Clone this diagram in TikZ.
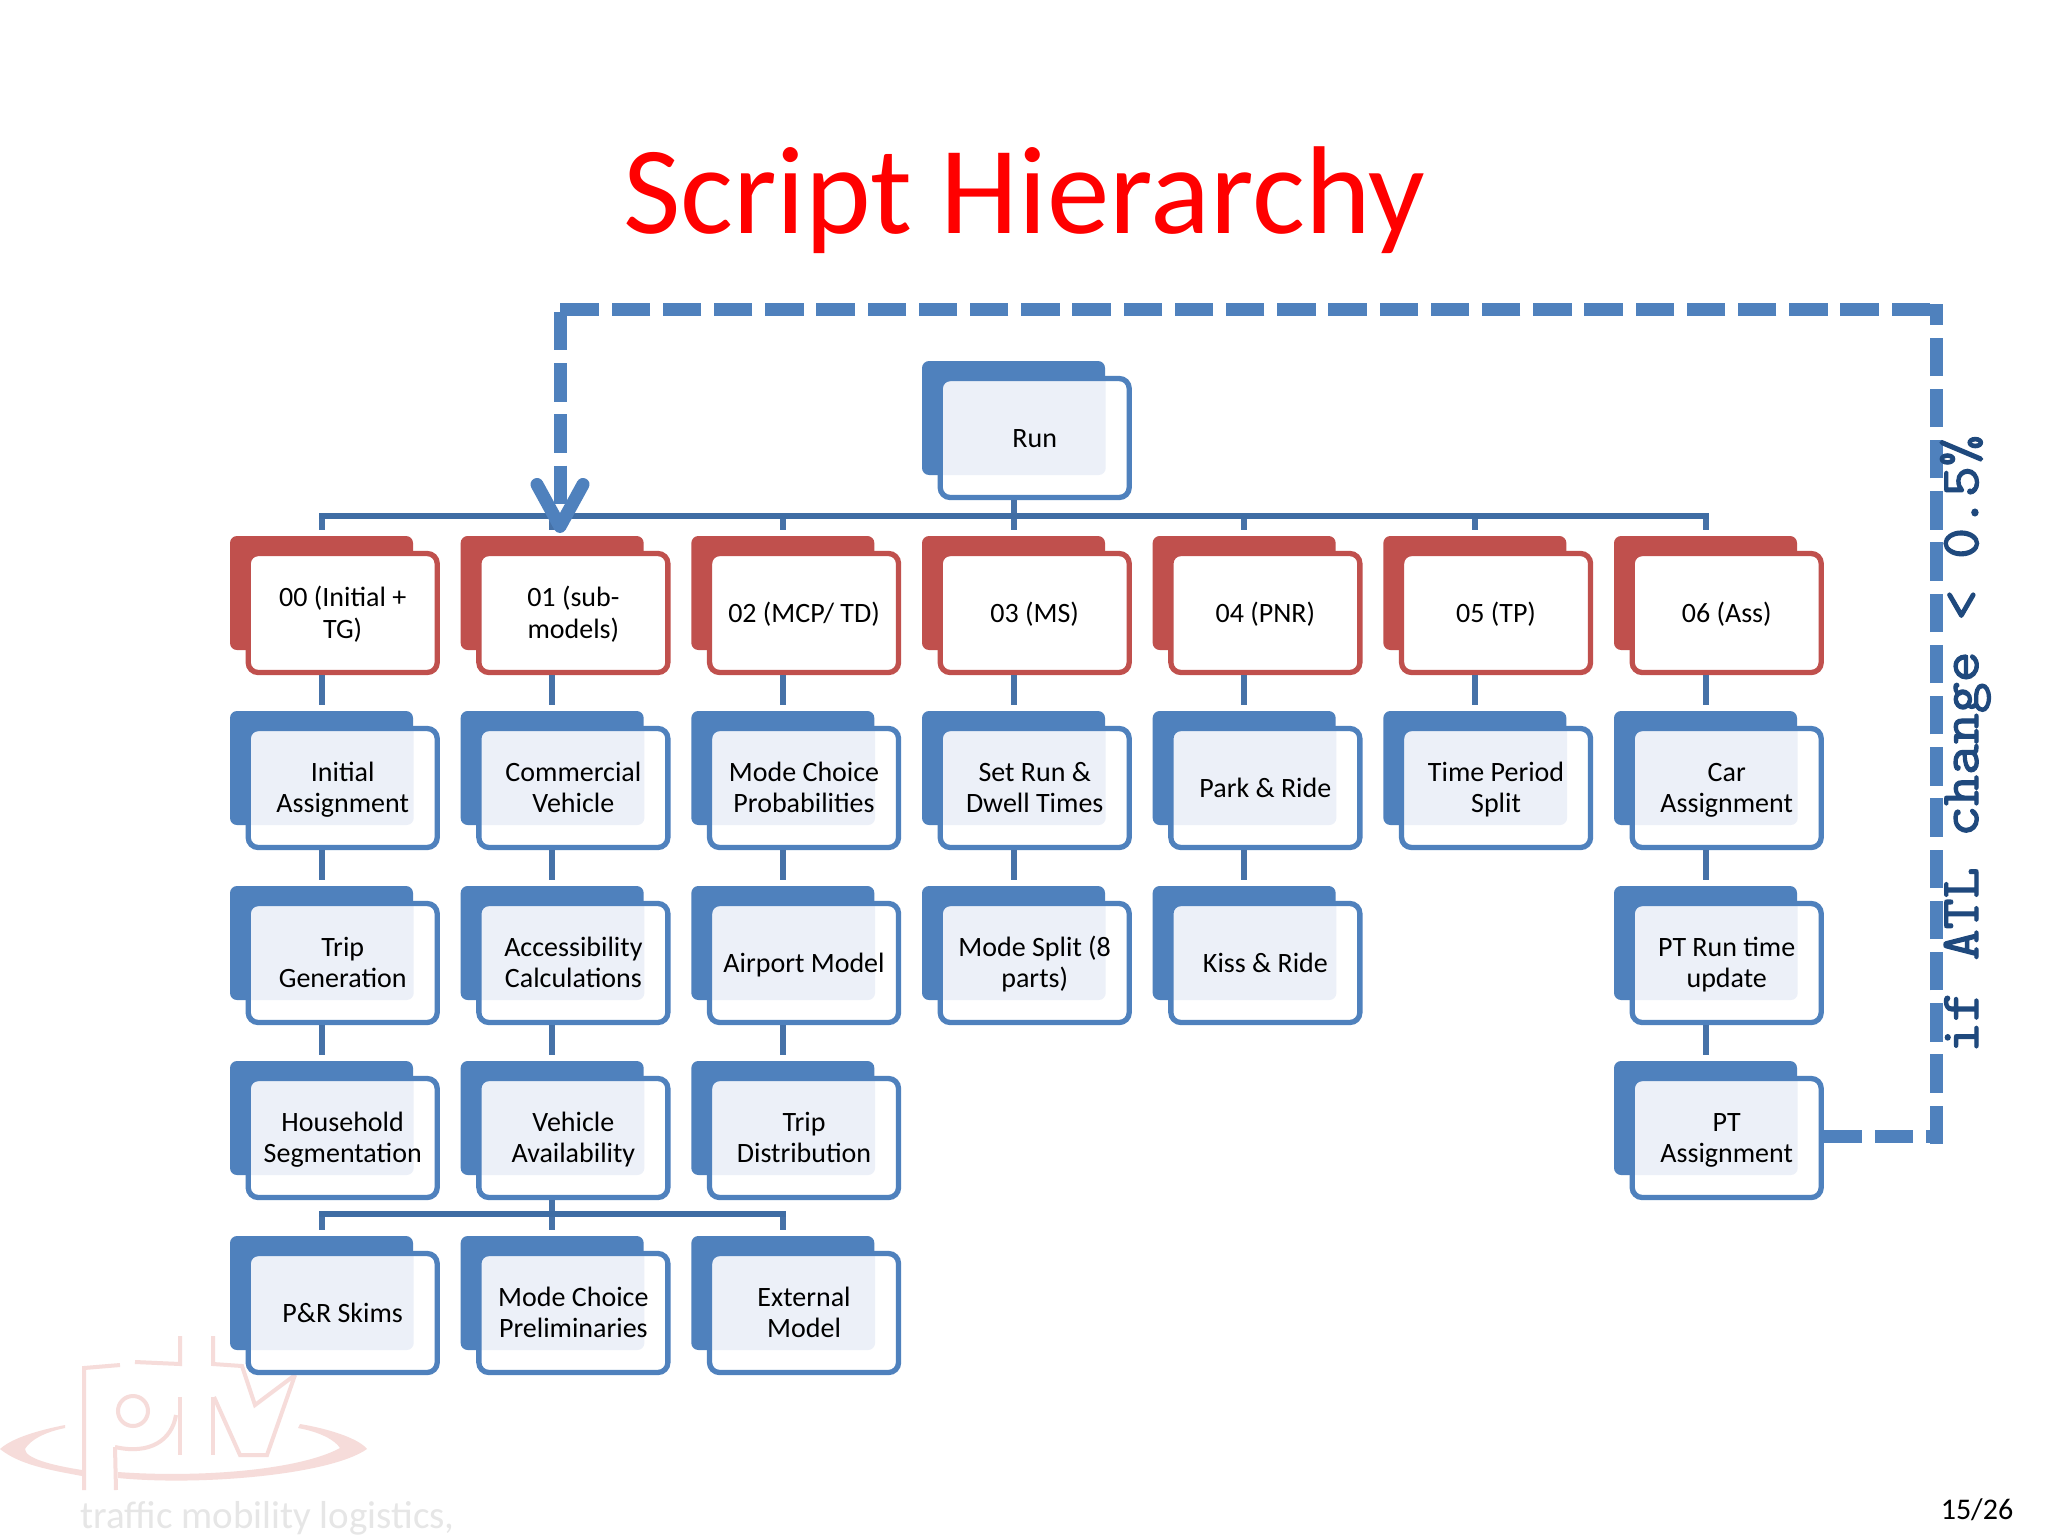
\documentclass[tikz,border=0pt]{standalone}
\usepackage{fontspec}
\setmainfont{Carlito}
\newfontfamily\notefont[FakeBold=2.2,FakeStretch=1.10]{Latin Modern Mono}
\usetikzlibrary{arrows.meta}
\definecolor{sblue}{HTML}{4F81BD}
\definecolor{sred}{HTML}{C0504D}
\definecolor{sover}{HTML}{ECF0F8}
\definecolor{sconn}{HTML}{4672A8}
\definecolor{sbus}{HTML}{3F6DA4}
\definecolor{snote}{HTML}{1F497D}
\definecolor{wmpink}{HTML}{F6DCDA}
\definecolor{wmgrey}{HTML}{E6E6E6}
\tikzset{
  backbox/.style={minimum width=183pt,minimum height=114pt,inner sep=0pt,outer sep=0pt,rounded corners=7pt},
  backblue/.style={backbox,fill=sblue},
  backred/.style={backbox,fill=sred},
  frontbox/.style={minimum width=189pt,minimum height=119pt,inner sep=0pt,line width=5.3pt,rounded corners=10pt,fill=white,align=center,
     font=\fontsize{28}{31.3}\selectfont},
  frontblue/.style={frontbox,draw=sblue,path picture={
     \fill[sover,rounded corners=7pt] ([xshift=-12pt,yshift=12pt]path picture bounding box.north west) rectangle ([xshift=-23.5pt,yshift=22.5pt]path picture bounding box.south east);}},
  frontred/.style={frontbox,draw=sred},
  conn/.style={draw=sconn,line width=6pt},
  bus/.style={draw=sbus,line width=6pt,line cap=rect},
  looper/.style={draw=sblue,line width=13pt,dash pattern=on 38.4pt off 12.8pt},
  wmline/.style={draw=wmpink,line width=4pt},
}
% the two rules give every label the same height and depth, so its lines sit at fixed heights
\newcommand{\bluebox}[4]{% name, col, row, text (blue)
  \node[backblue] (#1back) at ({321.5+230.67*#2},{593+175*(#3-1)}) {};
  \node[frontblue] (#1) at ({342.7+230.67*#2},{613+175*(#3-1)}) {\rule{0pt}{25pt}#4\rule[-7pt]{0pt}{7pt}};
}
\newcommand{\redbox}[3]{% name, col, text (red, row 1)
  \node[backred] (#1back) at ({321.5+230.67*#2},593) {};
  \node[frontred] (#1) at ({342.7+230.67*#2},613) {\rule{0pt}{26pt}#3\rule[-7pt]{0pt}{7pt}};
}
\newcommand{\vconn}[2]{\draw[conn] (#1back |- #1.south) -- ([yshift=6pt]#2back.north);}
\begin{document}
\begin{tikzpicture}[x=1pt,y=-1pt]
\useasboundingbox (0,0) rectangle (2048,1536);
\fill[white] (0,0) rectangle (2048,1536);
% watermark
\fill[wmpink] (65,1425) .. controls (30,1432) and (10,1440) .. (0,1449) .. controls (20,1465) and (50,1470) .. (82,1476) -- (82,1470) .. controls (50,1465) and (25,1458) .. (25,1449) .. controls (30,1440) and (45,1432) .. (65,1428) -- cycle;
\fill[wmpink] (118,1472) .. controls (200,1478) and (300,1470) .. (340,1448) .. controls (335,1440) and (320,1432) .. (298,1428) -- (300,1424) .. controls (335,1430) and (360,1440) .. (367,1449) .. controls (330,1475) and (200,1486) .. (118,1478) -- cycle;
\draw[wmline] (84,1490) -- (84,1368) -- (120,1365);
\draw[wmline] (135,1362) -- (180,1364) -- (180,1336);
\draw[wmline] (115,1447) -- (116,1490);
\draw[wmline] (115,1447) .. controls (150,1455) and (172,1440) .. (176,1415);
\draw[wmline] (133,1411) circle (15pt);
\draw[wmline] (180,1397) -- (180,1455);
\draw[wmline] (213,1336) -- (213,1364) -- (242,1366) -- (255,1405) -- (295,1375);
\draw[wmline] (213,1397) -- (213,1455);
\draw[wmline] (214,1397) -- (240,1455) -- (267,1455) -- (295,1375);
\node[anchor=base west,inner sep=0pt,text=wmgrey,font=\fontsize{39}{39}\selectfont] (wmtext) at (80,1528) {traffic mobility logistics,};
% title and page number
\node[anchor=base,inner sep=0pt,text=red,font=\fontsize{125}{125}\selectfont] (title) at (1024,233) {Script Hierarchy};
\node[anchor=base,inner sep=0pt,font=\fontsize{30}{30}\selectfont] (page) at (1977,1519) {15/26};
% root
\bluebox{run}{3}{0}{Run}
% header row
\redbox{a}{0}{00 (Initial +\\TG)}
\redbox{b}{1}{01 (sub-\\models)}
\redbox{c}{2}{02 (MCP/ TD)}
\redbox{d}{3}{03 (MS)}
\redbox{e}{4}{04 (PNR)}
\redbox{f}{5}{05 (TP)}
\redbox{g}{6}{06 (Ass)}
% column 0
\bluebox{aa}{0}{2}{Initial\\Assignment}
\bluebox{ab}{0}{3}{Trip\\Generation}
\bluebox{ac}{0}{4}{Household\\Segmentation}
\bluebox{ad}{0}{5}{P\&R Skims}
% column 1
\bluebox{ba}{1}{2}{Commercial\\Vehicle}
\bluebox{bb}{1}{3}{Accessibility\\Calculations}
\bluebox{bc}{1}{4}{Vehicle\\Availability}
\bluebox{bd}{1}{5}{Mode Choice\\Preliminaries}
% column 2
\bluebox{ca}{2}{2}{Mode Choice\\Probabilities}
\bluebox{cb}{2}{3}{Airport Model}
\bluebox{cc}{2}{4}{Trip\\Distribution}
\bluebox{cd}{2}{5}{External\\Model}
% column 3
\bluebox{da}{3}{2}{Set Run \&\\Dwell Times}
\bluebox{db}{3}{3}{Mode Split (8\\parts)}
% column 4
\bluebox{ea}{4}{2}{Park \& Ride}
\bluebox{eb}{4}{3}{Kiss \& Ride}
% column 5
\bluebox{fa}{5}{2}{Time Period\\Split}
% column 6
\bluebox{ga}{6}{2}{Car\\Assignment}
\bluebox{gb}{6}{3}{PT Run time\\update}
\bluebox{gc}{6}{4}{PT\\Assignment}
% connectors
\coordinate (busa) at (0,516);
\coordinate (busb) at (0,1214);
\draw[conn] (runback |- run.south) -- (runback |- busa);
\foreach \n in {a,b,c,d,e,f,g} {\draw[conn] (\n back |- busa) -- ([yshift=6pt]\n back.north);}
\draw[bus] (aback |- busa) -- (gback |- busa);
\vconn{a}{aa}\vconn{aa}{ab}\vconn{ab}{ac}
\vconn{b}{ba}\vconn{ba}{bb}\vconn{bb}{bc}
\vconn{c}{ca}\vconn{ca}{cb}\vconn{cb}{cc}
\vconn{d}{da}\vconn{da}{db}
\vconn{e}{ea}\vconn{ea}{eb}
\vconn{f}{fa}
\vconn{g}{ga}\vconn{ga}{gb}\vconn{gb}{gc}
\draw[conn] (bcback |- bc.south) -- (bcback |- busb);
\foreach \n in {ad,bd,cd} {\draw[conn] (\n back |- busb) -- ([yshift=6pt]\n back.north);}
\draw[bus] (adback |- busb) -- (cdback |- busb);
% feedback loop: four lines, each with its dashes starting at its own first end
\coordinate (loopout) at (1930,1136);
\coordinate (loopa) at (1936,1144);
\coordinate (loopb) at (1936,304);
\coordinate (loopc) at (1930,309.5);
\coordinate (loopd) at (560,309.5);
\coordinate (loope) at (560,312);
\coordinate (loopf) at (560,533);
\draw[looper] (gc.east |- loopout) -- (loopout);
\draw[looper] (loopa) -- (loopb);
\draw[looper] (loopc) -- (loopd);
\draw[looper,-{Straight Barb[round,length=42pt,width=46pt,line width=13pt]}] (loope) -- (loopf);
\node[anchor=base,rotate=90,inner sep=0pt,text=snote,font=\notefont\fontsize{54.5}{55}\selectfont] (note) at (1978,744) {if ATL change < 0.5\%};
\end{tikzpicture}
\end{document}
